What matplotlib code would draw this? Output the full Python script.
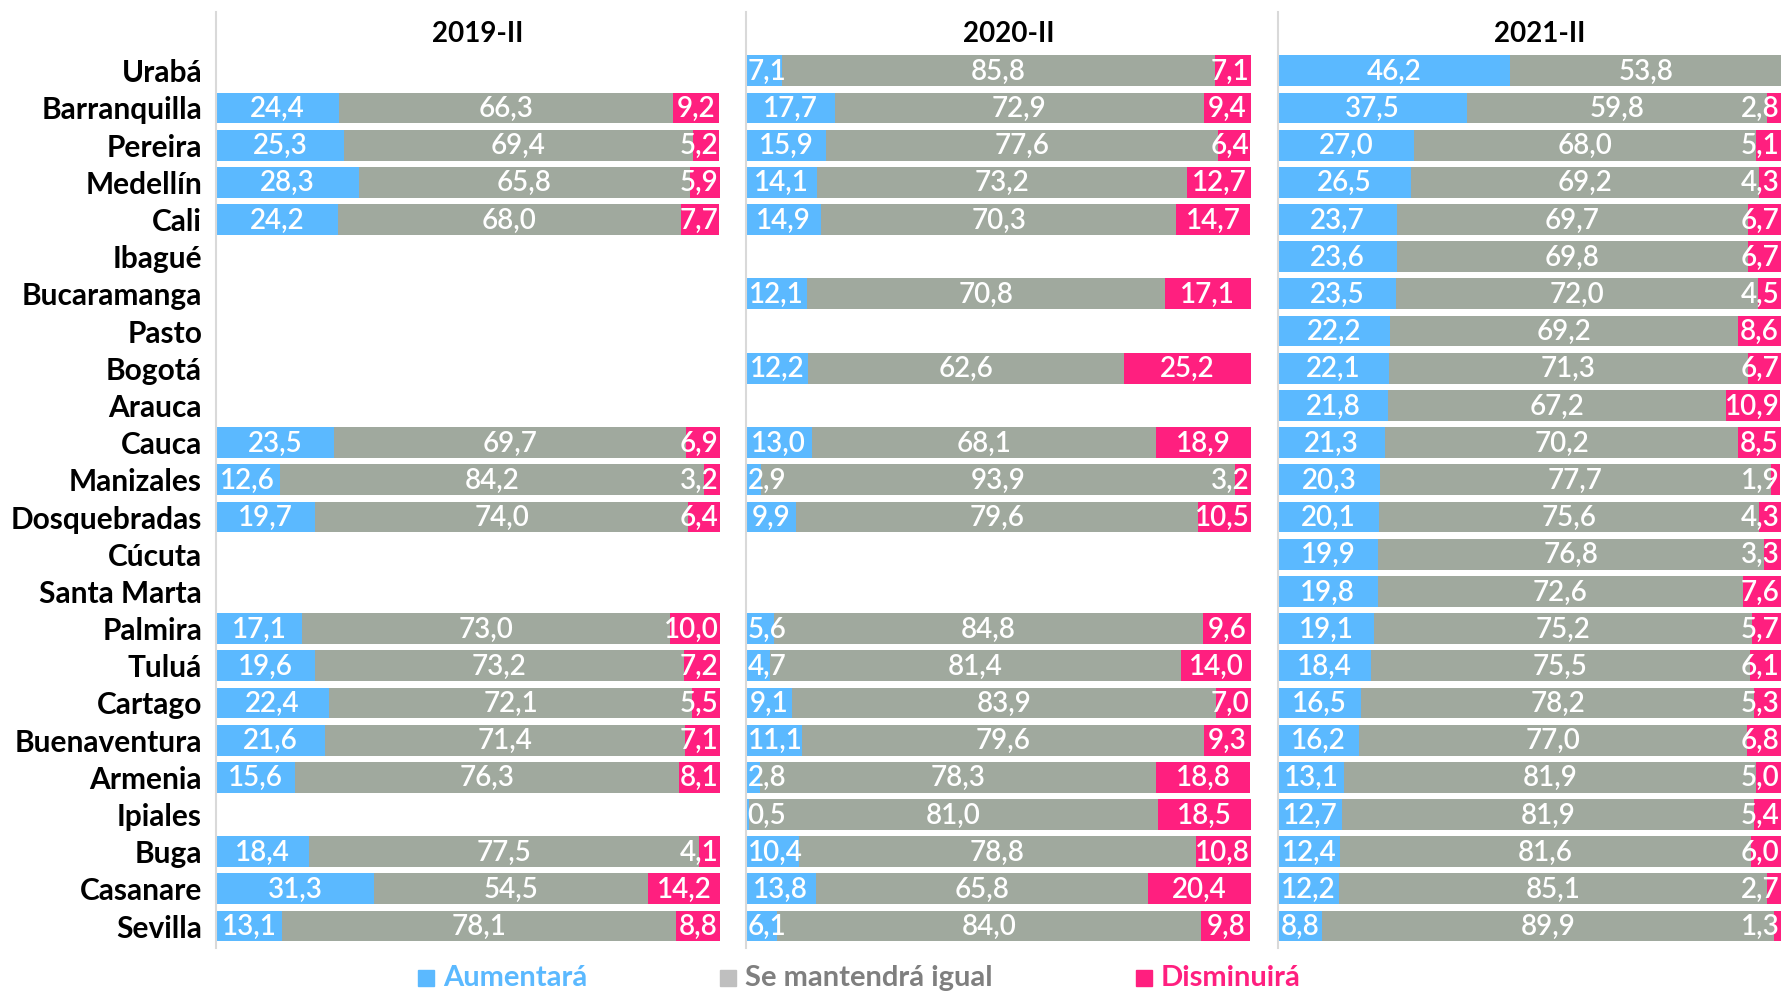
import numpy as np
import matplotlib
matplotlib.use('Agg')
import matplotlib.pyplot as plt
from matplotlib.patches import Rectangle

nan = np.nan

ciudades = ['Urabá', 'Barranquilla', 'Pereira', 'Medellín', 'Cali', 'Ibagué',
            'Bucaramanga', 'Pasto', 'Bogotá', 'Arauca', 'Cauca', 'Manizales',
            'Dosquebradas', 'Cúcuta', 'Santa Marta', 'Palmira', 'Tuluá', 'Cartago',
            'Buenaventura', 'Armenia', 'Ipiales', 'Buga', 'Casanare', 'Sevilla']
periodos = ['2019-II', '2020-II', '2021-II']
series = ['Aumentará', 'Se mantendrá igual', 'Disminuirá']

aumenta_2019 = [nan, 24.4, 25.3, 28.3, 24.2, nan, nan, nan, nan, nan, 23.5, 12.6,
                19.7, nan, nan, 17.1, 19.6, 22.4, 21.6, 15.6, nan, 18.4, 31.3, 13.1]
igual_2019 = [nan, 66.3, 69.4, 65.8, 68.0, nan, nan, nan, nan, nan, 69.7, 84.2,
              74.0, nan, nan, 73.0, 73.2, 72.1, 71.4, 76.3, nan, 77.5, 54.5, 78.1]
disminuye_2019 = [nan, 9.2, 5.2, 5.9, 7.7, nan, nan, nan, nan, nan, 6.9, 3.2,
                  6.4, nan, nan, 10.0, 7.2, 5.5, 7.1, 8.1, nan, 4.1, 14.2, 8.8]

aumenta_2020 = [7.1, 17.7, 15.9, 14.1, 14.9, nan, 12.1, nan, 12.2, nan, 13.0, 2.9,
                9.9, nan, nan, 5.6, 4.7, 9.1, 11.1, 2.8, 0.5, 10.4, 13.8, 6.1]
igual_2020 = [85.8, 72.9, 77.6, 73.2, 70.3, nan, 70.8, nan, 62.6, nan, 68.1, 93.9,
              79.6, nan, nan, 84.8, 81.4, 83.9, 79.6, 78.3, 81.0, 78.8, 65.8, 84.0]
disminuye_2020 = [7.1, 9.4, 6.4, 12.7, 14.7, nan, 17.1, nan, 25.2, nan, 18.9, 3.2,
                  10.5, nan, nan, 9.6, 14.0, 7.0, 9.3, 18.8, 18.5, 10.8, 20.4, 9.8]

aumenta_2021 = [46.2, 37.5, 27.0, 26.5, 23.7, 23.6, 23.5, 22.2, 22.1, 21.8, 21.3, 20.3,
                20.1, 19.9, 19.8, 19.1, 18.4, 16.5, 16.2, 13.1, 12.7, 12.4, 12.2, 8.8]
igual_2021 = [53.8, 59.8, 68.0, 69.2, 69.7, 69.8, 72.0, 69.2, 71.3, 67.2, 70.2, 77.7,
              75.6, 76.8, 72.6, 75.2, 75.5, 78.2, 77.0, 81.9, 81.9, 81.6, 85.1, 89.9]
disminuye_2021 = [0.0, 2.8, 5.1, 4.3, 6.7, 6.7, 4.5, 8.6, 6.7, 10.9, 8.5, 1.9,
                  4.3, 3.3, 7.6, 5.7, 6.1, 5.3, 6.8, 5.0, 5.4, 6.0, 2.7, 1.3]

datos = [
    (aumenta_2019, igual_2019, disminuye_2019),
    (aumenta_2020, igual_2020, disminuye_2020),
    (aumenta_2021, igual_2021, disminuye_2021),
]

colores = ['#5BB9FF', '#A0A99E', '#FF1F7F']
color_texto_leyenda = ['#5BB9FF', '#7F7F7F', '#FF1F7F']
color_marca_leyenda = ['#5BB9FF', '#BFBFBF', '#FF1F7F']

plt.rcParams['font.family'] = ['Lato', 'DejaVu Sans']

W, H = 1786, 991
fig = plt.figure(figsize=(W / 100, H / 100), dpi=100)

paneles = [(216, 720), (746, 1251), (1278, 1781)]
top_px, bottom_px = 12, 948

y = np.arange(len(ciudades))
etiquetas = []
for i, (x0, x1) in enumerate(paneles):
    ax = fig.add_axes([x0 / W, 1 - bottom_px / H, (x1 - x0) / W, (bottom_px - top_px) / H])
    izquierda = np.zeros(len(ciudades))
    textos = []
    for serie, color in zip(datos[i], colores):
        vals = np.array(serie, dtype=float)
        ok = ~np.isnan(vals)
        ax.barh(y[ok], vals[ok], left=izquierda[ok], height=0.83, color=color,
                edgecolor='none')
        for yy, v, l in zip(y[ok], vals[ok], izquierda[ok]):
            if v <= 0:
                continue
            t = ax.text(l + v / 2, yy + 0.03, f'{v:.1f}'.replace('.', ','),
                        ha='center', va='center', color='white', fontsize=20,
                        fontweight='semibold', clip_on=True)
            textos.append(t)
        izquierda = np.where(ok, izquierda + np.nan_to_num(vals), izquierda)
    etiquetas.append((ax, textos))

    ax.set_xlim(0, 100)
    ax.set_ylim(23.59, -1.58)
    ax.set_xticks([])
    for lado in ['top', 'right', 'bottom']:
        ax.spines[lado].set_visible(False)
    ax.spines['left'].set_color('#D9D9D9')
    ax.spines['left'].set_linewidth(1.5)
    if i == 0:
        ax.set_yticks(y)
        ax.set_yticklabels(ciudades, fontsize=21.5, fontweight='bold')
        ax.tick_params(axis='y', length=0, pad=10)
    else:
        ax.set_yticks([])
    ax.text(0.52, 1 - 22 / (bottom_px - top_px), periodos[i], transform=ax.transAxes,
            ha='center', va='center', fontsize=20, fontweight='bold')

# mantener etiquetas dentro del área de trazado, como hace Excel
fig.canvas.draw()
r = fig.canvas.get_renderer()
for ax, textos in etiquetas:
    inv = ax.transData.inverted()
    for t in textos:
        bb = t.get_window_extent(r)
        a = inv.transform((bb.x0, 0))[0]
        b = inv.transform((bb.x1, 0))[0]
        half = (b - a) / 2 + 0.3
        x = t.get_position()[0]
        t.set_x(min(max(x, half), 100 - half))

# leyenda
leyenda_x = [418, 720, 1136]
ley_y = 978
for xm, nombre, cm, ct in zip(leyenda_x, series, color_marca_leyenda, color_texto_leyenda):
    fig.add_artist(Rectangle((xm / W, 1 - (ley_y + 8) / H), 16 / W, 16 / H,
                             transform=fig.transFigure, color=cm))
    fig.text((xm + 25) / W, 1 - ley_y / H, nombre, color=ct, fontsize=21,
             fontweight='bold', ha='left', va='center')

fig.savefig('out.png', dpi=100)
